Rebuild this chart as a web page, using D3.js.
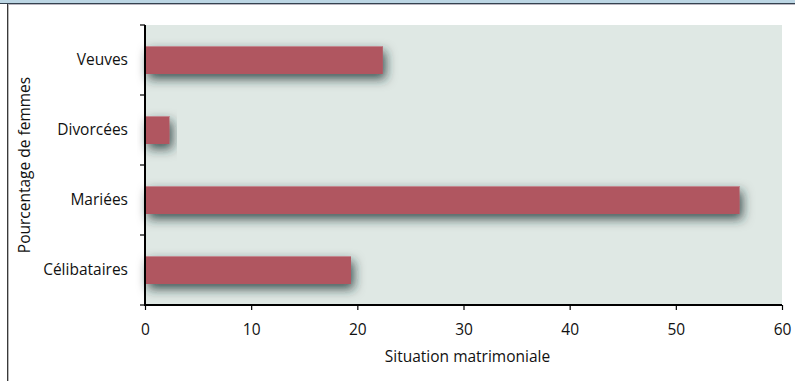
<!DOCTYPE html>
<html>
<head>
<meta charset="utf-8">
<script src="https://cdn.jsdelivr.net/npm/d3@7"></script>
<style>
  html, body { margin: 0; padding: 0; background: #ffffff; }
  svg { display: block; font-family: "Open Sans", "DejaVu Sans", sans-serif; }
</style>
</head>
<body>
<svg id="chart" width="795" height="381"></svg>
<script>
// Répartition des femmes selon la situation matrimoniale (%)
const categories = ["Veuves", "Divorcées", "Mariées", "Célibataires"];
const values = [22.4, 2.3, 56.0, 19.4];
const xTicks = [0, 10, 20, 30, 40, 50, 60];
const xTitle = "Situation matrimoniale";
const yTitle = "Pourcentage de femmes";

const W = 795, H = 381;
const margin = { top: 25, right: 13, bottom: 76, left: 145 };
const iw = W - margin.left - margin.right;
const ih = H - margin.top - margin.bottom;

const svg = d3.select("#chart");

// frame: light blue band on top, thin border on the left
svg.append("rect").attr("x", 0).attr("y", 0).attr("width", W).attr("height", 3).attr("fill", "#bcd6e4");
svg.append("rect").attr("x", 0).attr("y", 3).attr("width", W).attr("height", 1).attr("fill", "#34424f");
svg.append("rect").attr("x", 7).attr("y", 4).attr("width", W - 7).attr("height", 1).attr("fill", "#b9b6c0");
svg.append("rect").attr("x", 7).attr("y", 4).attr("width", 1).attr("height", H).attr("fill", "#3a3a3a");
svg.append("rect").attr("x", 8).attr("y", 5).attr("width", 1).attr("height", H).attr("fill", "#b8b8b8");

const defs = svg.append("defs");
const shadow = defs.append("filter").attr("id", "barShadow")
  .attr("x", "-30%").attr("y", "-80%").attr("width", "160%").attr("height", "280%");
shadow.append("feDropShadow")
  .attr("dx", 3).attr("dy", 5).attr("stdDeviation", 5.5)
  .attr("flood-color", "#1c2e33").attr("flood-opacity", 0.8);

const g = svg.append("g").attr("transform", `translate(${margin.left},${margin.top})`);

const x = d3.scaleLinear().domain([0, 60]).range([0, iw]);
const y = d3.scaleBand().domain(categories).range([0, ih]).paddingInner(0).paddingOuter(0);
const barH = y.bandwidth() * 0.4;

// plot background
g.append("rect").attr("x", 0).attr("y", 0).attr("width", iw).attr("height", ih).attr("fill", "#dfe8e4");

// bars
g.selectAll("rect.bar").data(categories).join("rect")
  .attr("class", "bar")
  .attr("x", x(0))
  .attr("y", d => y(d) + (y.bandwidth() - barH) / 2)
  .attr("width", (d, i) => x(values[i]) - x(0))
  .attr("height", barH)
  .attr("fill", "#b05661")
  .attr("filter", "url(#barShadow)");

// light top edge on each bar
g.selectAll("rect.edge").data(categories).join("rect")
  .attr("class", "edge")
  .attr("x", x(0))
  .attr("y", d => y(d) + (y.bandwidth() - barH) / 2)
  .attr("width", (d, i) => x(values[i]) - x(0))
  .attr("height", 1)
  .attr("fill", "#c3868e");

// x axis
const xAxis = g.append("g").attr("transform", `translate(0,${ih})`)
  .call(d3.axisBottom(x).tickValues(xTicks).tickSize(5).tickPadding(14).tickFormat(d3.format("d")));
xAxis.select(".domain").attr("stroke", "#000").attr("stroke-width", 2).attr("d", `M0,0H${iw}`);
xAxis.selectAll(".tick line").attr("stroke", "#000").attr("stroke-width", 1.2);
xAxis.selectAll(".tick text").attr("font-size", 15.5).attr("fill", "#111")
  .attr("font-family", "'Open Sans', sans-serif");

// y axis: ticks at category boundaries
const yAxis = g.append("g");
yAxis.append("line").attr("x1", 0).attr("x2", 0).attr("y1", 0).attr("y2", ih + 1)
  .attr("stroke", "#000").attr("stroke-width", 2);
const bounds = categories.map(c => y(c)).concat([ih]);
yAxis.selectAll("line.tk").data(bounds).join("line")
  .attr("class", "tk")
  .attr("x1", -5).attr("x2", 0)
  .attr("y1", d => d).attr("y2", d => d)
  .attr("stroke", "#000").attr("stroke-width", 1.2);
yAxis.selectAll("text.lab").data(categories).join("text")
  .attr("class", "lab")
  .attr("x", -17)
  .attr("y", d => y(d) + y.bandwidth() / 2)
  .attr("dy", "0.35em")
  .attr("text-anchor", "end")
  .attr("font-size", 15.5)
  .attr("fill", "#111")
  .text(d => d);

// axis titles
svg.append("text")
  .attr("x", margin.left + iw / 2 + 4)
  .attr("y", 362)
  .attr("text-anchor", "middle")
  .attr("font-size", 15.5)
  .attr("fill", "#111")
  .text(xTitle);

svg.append("text")
  .attr("transform", `translate(30,${margin.top + ih / 2}) rotate(-90)`)
  .attr("text-anchor", "middle")
  .attr("font-size", 15.5)
  .attr("fill", "#111")
  .text(yTitle);
</script>
</body>
</html>
